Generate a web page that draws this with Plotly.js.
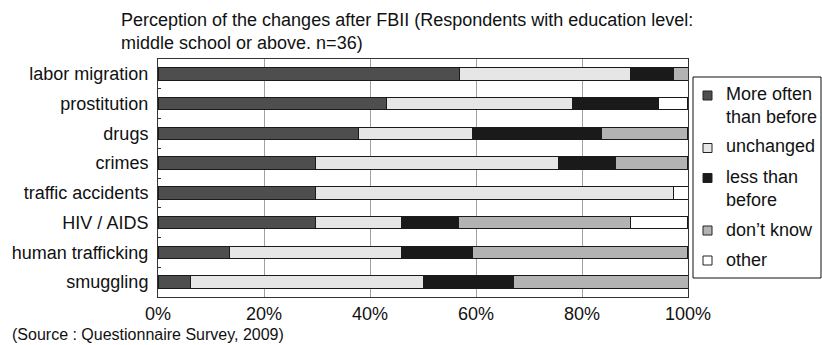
<!DOCTYPE html>
<html><head><meta charset="utf-8">
<script src="https://cdn.plot.ly/plotly-3.0.1.min.js"></script>
<style>html,body{margin:0;padding:0;background:#fff}#chart{width:822px;height:345px}</style>
</head><body><div id="chart"></div>
<script>
const categories = ["labor migration","prostitution","drugs","crimes","traffic accidents","HIV / AIDS","human trafficking","smuggling"];
const seriesNames = ["More often<br>than before","unchanged","less than<br>before","don’t know","other"];
const moreOften = [56.8, 43.2, 37.8, 29.7, 29.7, 29.7, 13.5, 6.2];
const unchanged = [32.4, 35.1, 21.6, 45.9, 67.6, 16.2, 32.4, 43.8];
const lessThan  = [8.1, 16.2, 24.3, 10.8, 0, 10.8, 13.5, 17.0];
const dontKnow  = [2.7, 0, 16.2, 13.5, 0, 32.4, 40.5, 33.0];
const other     = [0, 5.4, 0, 0, 2.7, 10.8, 0, 0];
const xTickVals = [0,20,40,60,80,100];
const xTickText = ["0%","20%","40%","60%","80%","100%"];
const titleText = "Perception of the changes after FBII (Respondents with education level:<br>middle school or above. n=36)";
const sourceText = "(Source : Questionnaire Survey, 2009)";
const colors = ["#4e4e4e","#e6e6e6","#1a1a1a","#b3b3b3","#ffffff"];
const values = [moreOften, unchanged, lessThan, dontKnow, other];

// plot area in pixels
const W = 822, H = 345, L = 158, R = 688, T = 59, B = 297;
const px = x => (x - L) / (R - L);
const py = y => (B - y) / (B - T);

const traces = values.map((v,i)=>({
  type:'bar', orientation:'h', name: seriesNames[i], x: v, y: categories,
  marker:{color: colors[i], line:{color:'#1a1a1a', width:1}},
  showlegend:false, hoverinfo:'x+name'
}));

// legend drawn as shapes + annotations
const legendSquareY = [95.5, 148, 178, 230.5, 260.5];
const legendTextY = [105.5, 146, 188.5, 230, 260];
const shapes = [{type:'rect', xref:'paper', yref:'paper', x0:px(693), x1:px(821), y0:py(278), y1:py(77),
  line:{color:'#111', width:1}, fillcolor:'rgba(0,0,0,0)'}];
const annotations = [];
seriesNames.forEach((n,i)=>{
  shapes.push({type:'rect', xref:'paper', yref:'paper', x0:px(703), x1:px(712),
    y0:py(legendSquareY[i]+4.5), y1:py(legendSquareY[i]-4.5), line:{color:'#222', width:1}, fillcolor:colors[i]});
  annotations.push({text:n, xref:'paper', yref:'paper', x:px(724), xanchor:'left', y:py(legendTextY[i]), yanchor:'middle',
    align:'left', showarrow:false, font:{size:18, color:'#111'}});
});
annotations.push({text:titleText, xref:'paper', yref:'paper', x:px(119), xanchor:'left', y:py(8), yanchor:'top',
  align:'left', showarrow:false, font:{size:18, color:'#111'}});
annotations.push({text:sourceText, xref:'paper', yref:'paper', x:px(10), xanchor:'left', y:py(335), yanchor:'middle',
  align:'left', showarrow:false, font:{size:16, color:'#111'}});

const layout = {
  width:W, height:H,
  margin:{l:L, r:W-R, t:T, b:H-B},
  barmode:'stack', bargap:0.58,
  paper_bgcolor:'#fff', plot_bgcolor:'#fff',
  font:{family:'"Liberation Sans", Arial, sans-serif', color:'#111', size:18},
  xaxis:{range:[0,100], tickvals:xTickVals, ticktext:xTickText, showgrid:true, gridcolor:'#a0a0a0', gridwidth:1,
    showline:true, linecolor:'#333', linewidth:1, mirror:true, zeroline:false, ticks:'', tickfont:{size:18}, fixedrange:true},
  yaxis:{categoryorder:'array', categoryarray:categories, autorange:'reversed', showline:true, linecolor:'#333', linewidth:1,
    mirror:true, ticks:'inside', tickson:'boundaries', ticklen:3, tickcolor:'#333', showgrid:false, tickfont:{size:18},
    ticklabelstandoff:5},
  showlegend:false,
  shapes: shapes,
  annotations: annotations
};
Plotly.newPlot('chart', traces, layout, {displayModeBar:false, staticPlot:true});
</script></body></html>
